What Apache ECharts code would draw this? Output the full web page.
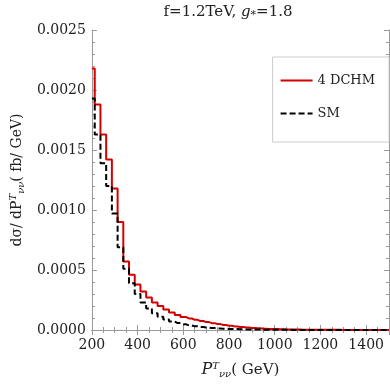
<!DOCTYPE html>
<html>
<head>
<meta charset="utf-8">
<script src="https://cdn.jsdelivr.net/npm/echarts@6/dist/echarts.min.js"></script>
<style>
  html, body { margin: 0; padding: 0; background: #fff; }
  #chart { width: 390px; height: 390px; }
</style>
</head>
<body>
<div id="chart"></div>
<script>
// bin centres (GeV), 25 GeV bins
const ptBins = [200, 225, 250, 275, 300, 325, 350, 375, 400, 425, 450, 475, 500, 525, 550, 575,
  600, 625, 650, 675, 700, 725, 750, 775, 800, 825, 850, 875, 900, 925, 950, 975,
  1000, 1025, 1050, 1075, 1100, 1125, 1150, 1175, 1200, 1225, 1250, 1275, 1300, 1325,
  1350, 1375, 1400, 1425, 1450, 1475, 1500]

// 4DCHM  dsigma/dPT (fb/GeV)
const dchmValues = [0.00218, 0.00188, 0.00163, 0.00142, 0.00118, 0.00090, 0.00057, 0.00046,
  0.00038, 0.00032, 0.00027, 0.00023, 0.00020, 0.00017, 0.000145, 0.000125,
  0.000108, 0.000096, 0.000085, 0.000075, 0.000066, 0.000057, 0.000049, 0.000042,
  0.000036, 0.000030, 0.000025, 0.000021, 0.000017, 0.000014, 0.000011, 0.0000092,
  0.0000075, 0.0000063, 0.0000052, 0.0000043, 0.0000036, 0.000003, 0.0000025, 0.0000021,
  0.0000018, 0.0000015, 0.0000013, 0.0000011, 0.000001, 0.0000008, 0.0000007, 0.0000006,
  0.0000005, 0.0000004, 0.0000004, 0.0000003, 0.0000003]

// SM
const smValues = [0.00193, 0.00163, 0.00139, 0.00120, 0.00097, 0.00069, 0.00051, 0.00039,
  0.00030, 0.00023, 0.00018, 0.00014, 0.00011, 0.000088, 0.000071, 0.000058,
  0.000047, 0.000038, 0.000031, 0.000025, 0.00002, 0.000016, 0.000013, 0.000011,
  0.000009, 0.0000075, 0.000006, 0.000005, 0.000004, 0.0000033, 0.0000027, 0.0000022,
  0.0000018, 0.0000015, 0.0000012, 0.000001, 0.0000008, 0.0000007, 0.0000006, 0.0000005,
  0.0000004, 0.0000004, 0.0000003, 0.0000003, 0.0000002, 0.0000002, 0.0000002, 0.0000002,
  0.0000001, 0.0000001, 0.0000001, 0.0000001, 0.0000001]

const seriesNames = ['4 DCHM', 'SM']

const serif = 'DejaVu Serif'
const frameColor = '#999'

const chart = echarts.init(document.getElementById('chart'))

// common frame axis settings (Mathematica-like frame, ticks inside)
const frameAxis = {
  axisLine: { show: true, lineStyle: { color: frameColor, width: 1 } },
  axisTick: { show: true, inside: true, length: 5, lineStyle: { color: frameColor } },
  minorTick: { show: true, length: 3, lineStyle: { color: frameColor } },
  splitLine: { show: false }
}

chart.setOption({
  animation: false,
  graphic: [
    {
      type: 'text',
      x: 228,
      y: 12,
      style: {
        text: 'f=1.2TeV, {i|g}{sub|*}=1.8',
        font: '15px "' + serif + '"',
        fill: '#222',
        align: 'center',
        verticalAlign: 'middle',
        rich: {
          i: { fontFamily: serif, fontStyle: 'italic', fontSize: 15, fill: '#222' },
          sub: { fontFamily: serif, fontSize: 11, verticalAlign: 'bottom', padding: [6, 0, 0, 0] }
        }
      }
    }
  ],
  grid: { left: 87, top: 30, right: 1, bottom: 60 },
  legend: {
    orient: 'vertical',
    right: 1,
    top: 57,
    padding: [17, 14, 22, 7],
    itemWidth: 32,
    itemHeight: 10,
    itemGap: 20,
    borderColor: '#ccc',
    borderWidth: 1,
    backgroundColor: '#fff',
    itemStyle: { opacity: 0, borderWidth: 0 },
    textStyle: { fontFamily: serif, fontSize: 13, color: '#222' },
    data: seriesNames
  },
  xAxis: [
    Object.assign({}, frameAxis, {
      type: 'value',
      position: 'bottom',
      min: 200,
      max: 1500,
      interval: 200,
      minorTick: Object.assign({}, frameAxis.minorTick, { splitNumber: 4 }),
      axisLabel: {
        showMaxLabel: false,
        fontFamily: serif,
        fontSize: 14,
        color: '#222',
        margin: 8,
        formatter: v => String(v)
      },
      name: '{i|P}{sup|T}{sub|νν}( GeV)',
      nameLocation: 'middle',
      nameGap: 31,
      nameTextStyle: {
        fontFamily: serif,
        fontSize: 15,
        color: '#222',
        rich: {
          i: { fontFamily: serif, fontStyle: 'italic', fontSize: 16, color: '#222' },
          sup: { fontFamily: serif, fontStyle: 'italic', fontSize: 10, color: '#222', verticalAlign: 'top', padding: [0, 0, 8, 0] },
          sub: { fontFamily: serif, fontStyle: 'italic', fontSize: 10, color: '#222', verticalAlign: 'bottom', padding: [8, 0, 0, 0] }
        }
      }
    }),
    Object.assign({}, frameAxis, {
      type: 'value',
      position: 'top',
      min: 200,
      max: 1500,
      interval: 200,
      minorTick: Object.assign({}, frameAxis.minorTick, { splitNumber: 4 }),
      axisLabel: { show: false }
    })
  ],
  yAxis: [
    Object.assign({}, frameAxis, {
      type: 'value',
      position: 'left',
      min: 0,
      max: 0.0025,
      interval: 0.0005,
      minorTick: Object.assign({}, frameAxis.minorTick, { splitNumber: 5 }),
      axisLabel: {
        fontFamily: serif,
        fontSize: 14,
        color: '#222',
        margin: 6,
        formatter: v => v.toFixed(4)
      },
      name: 'dσ/ dP{sup|T}{sub|νν}( fb/ GeV)',
      nameLocation: 'middle',
      nameRotate: 90,
      nameGap: 55,
      nameTextStyle: {
        fontFamily: serif,
        fontSize: 14,
        color: '#222',
        rich: {
          sup: { fontFamily: serif, fontStyle: 'italic', fontSize: 10, color: '#222', verticalAlign: 'top', padding: [0, 0, 8, 0] },
          sub: { fontFamily: serif, fontStyle: 'italic', fontSize: 10, color: '#222', verticalAlign: 'bottom', padding: [8, 0, 0, 0] }
        }
      }
    }),
    Object.assign({}, frameAxis, {
      type: 'value',
      position: 'right',
      min: 0,
      max: 0.0025,
      interval: 0.0005,
      minorTick: Object.assign({}, frameAxis.minorTick, { splitNumber: 5 }),
      axisLabel: { show: false }
    })
  ],
  series: [
    {
      name: seriesNames[0],
      type: 'line',
      step: 'middle',
      symbol: 'none',
      lineStyle: { color: '#d40000', width: 2 },
      itemStyle: { color: '#d40000' },
      data: ptBins.map((x, i) => [x, dchmValues[i]])
    },
    {
      name: seriesNames[1],
      type: 'line',
      step: 'middle',
      symbol: 'none',
      z: 3,
      lineStyle: { color: '#000', width: 2, type: [6, 3] },
      itemStyle: { color: '#000' },
      data: ptBins.map((x, i) => [x, smValues[i]])
    }
  ]
})

window.addEventListener('resize', () => chart.resize())
</script>
</body>
</html>
